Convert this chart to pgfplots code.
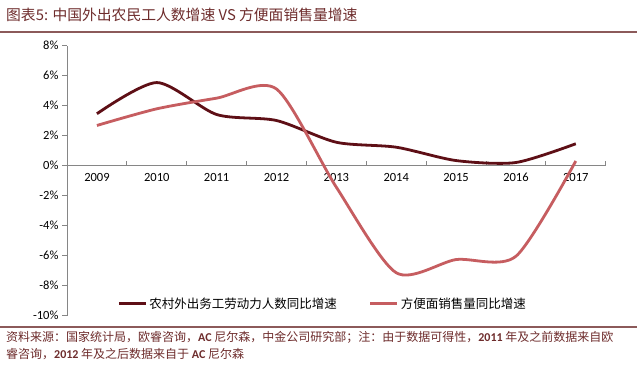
\documentclass[border=0pt]{standalone}
\usepackage{fontspec}
\setmainfont{Carlito}
\newfontfamily\cjk{Noto Sans CJK SC}
\usepackage{pgfplots}
\pgfplotsset{compat=1.18}
\definecolor{darkline}{HTML}{5E0F16}
\definecolor{lightline}{HTML}{C65D60}
\definecolor{titlecol}{HTML}{6E2C2C}
\definecolor{rulecol}{HTML}{8C5A5A}
\definecolor{axiscol}{HTML}{868686}
\newcommand\lat[1]{{\normalfont\bfseries #1}}
\pgfplotstableread{
x dark light
0 3.45 2.67
1 5.53 3.78
2 3.40 4.49
3 3.00 5.10
4 1.55 -1.45
5 1.22 -7.15
6 0.33 -6.27
7 0.20 -6.05
8 1.45 0.30
}\datatable
\begin{document}
\begin{tikzpicture}[x=1bp,y=1bp]
\useasboundingbox (0,0) rectangle (637,-368);
\fill[white] (0,0) rectangle (637,-368);
\node[anchor=west, text=titlecol, font=\cjk\fontsize{14.8bp}{16bp}\selectfont, inner sep=0] at (6,-15) {图表5: 中国外出农民工人数增速 VS 方便面销售量增速};
\draw[rulecol, line width=1.5bp] (0,-32) -- (637,-32);
\begin{axis}[
  at={(67bp,-315.5bp)}, anchor=south west,
  scale only axis, width=538.7bp, height=270bp,
  xmin=-0.5, xmax=8.5, ymin=-10, ymax=8,
  axis x line=middle, axis y line=left,
  axis line style={axiscol, line width=0.8bp, -},
  hide obscured x ticks=false, hide obscured y ticks=false,
  xtick={-0.5,0.5,...,8.5}, x tick label as interval,
  xticklabels={2009,2010,2011,2012,2013,2014,2015,2016,2017},
  xtick align=inside, ytick align=outside,
  major tick length=5bp,
  ytick={-10,-8,...,8},
  yticklabel={\pgfmathprintnumber{\tick}\%},
  /pgf/number format/assume math mode=true,
  tick style={axiscol, line width=0.8bp},
  ticklabel style={font=\fontsize{12.5bp}{14bp}\selectfont, text=black},
  xticklabel style={yshift=-4bp},
  legend columns=2,
  legend style={draw=none, fill=none, inner sep=0pt,
    at={(axis description cs:0.093,0.043)}, anchor=west,
    font=\cjk\fontsize{12.5bp}{14bp}\selectfont,
    /tikz/every even column/.append style={column sep=30bp}},
  legend image code/.code={\draw[#1, line width=3bp] (0bp,0bp) -- (27bp,0bp);},
]
\addplot[darkline, line width=2.8bp, smooth, tension=0.45, no markers] table[x=x, y=dark] {\datatable};
\addlegendentry{农村外出务工劳动力人数同比增速}
\addplot[lightline, line width=2.8bp, smooth, tension=0.45, no markers] table[x=x, y=light] {\datatable};
\addlegendentry{方便面销售量同比增速}
\end{axis}
\draw[rulecol, line width=2bp] (0,-327) -- (637,-327);
\node[anchor=west, text=titlecol, font=\cjk\fontsize{12bp}{14bp}\selectfont, inner sep=0] at (6,-337) {资料来源：国家统计局，欧睿咨询，\lat{AC} 尼尔森，中金公司研究部；注：由于数据可得性，\lat{2011} 年及之前数据来自欧};
\node[anchor=west, text=titlecol, font=\cjk\fontsize{12bp}{14bp}\selectfont, inner sep=0] at (6,-354) {睿咨询，\lat{2012} 年及之后数据来自于 \lat{AC} 尼尔森};
\end{tikzpicture}
\end{document}
